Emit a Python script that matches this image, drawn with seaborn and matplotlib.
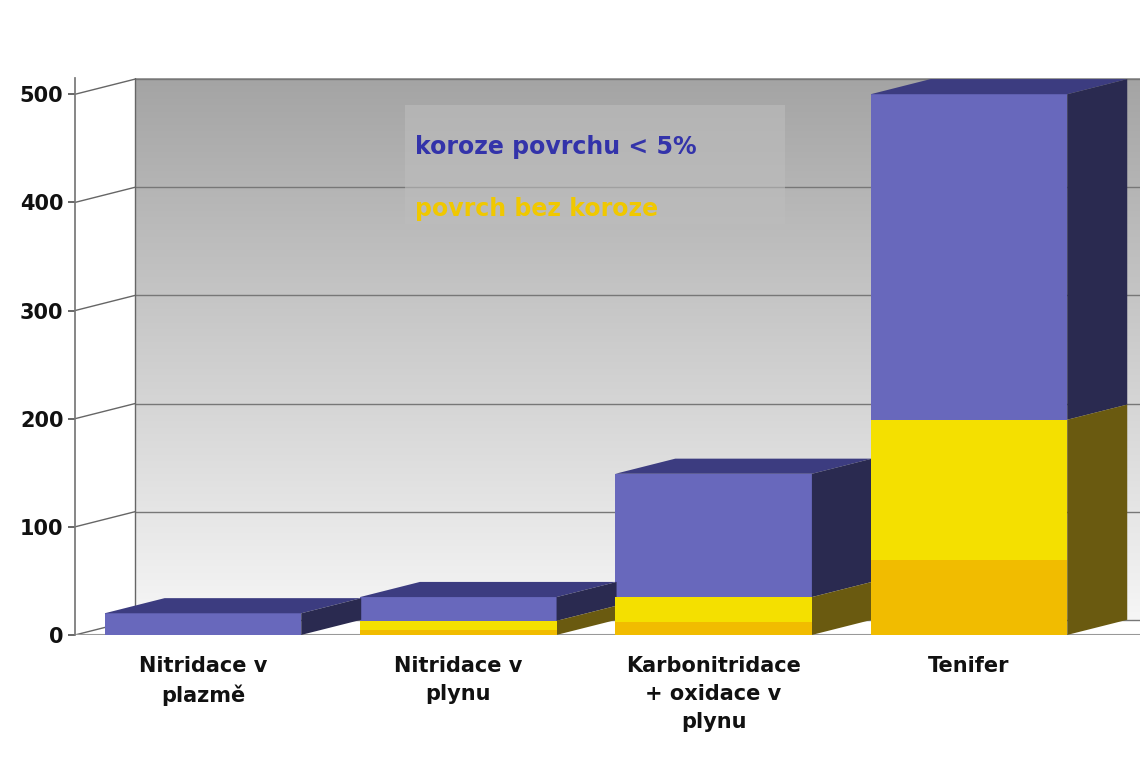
import matplotlib
matplotlib.use("Agg")
import matplotlib.pyplot as plt
import seaborn as sns
import numpy as np
import pandas as pd
from matplotlib.patches import Polygon, Rectangle

categories = ["Nitridace v\nplazmě", "Nitridace v\nplynu", "Karbonitridace\n+ oxidace v\nplynu", "Tenifer"]
total = [20, 35, 149, 500]
yellow = [0, 13, 35, 199]
yticks = [0, 100, 200, 300, 400, 500]
legend_labels = ["koroze povrchu < 5%", "povrch bez koroze"]

sns.set_theme(style="white")
plt.rcParams['font.family'] = ['DejaVu Sans']

fig = plt.figure(figsize=(11.4, 7.8), dpi=100)
ax = fig.add_axes([0.066, 0.186, 0.934, 0.714])
x0, x1 = -0.5, 3.67
y0, y1 = 0, 515
dx, dy = 0.235, 14

df = pd.DataFrame({"cat": categories, "total": total, "yellow": yellow})
w = 0.77
sns.barplot(data=df, x="cat", y="total", color="#6868bc", saturation=1, width=w, ax=ax, zorder=3, linewidth=0)
sns.barplot(data=df, x="cat", y="yellow", color="#f4e000", saturation=1, width=w, ax=ax, zorder=4, linewidth=0)
ax.set_xlim(x0, x1); ax.set_ylim(y0, y1)

grad = np.linspace(1, 0, 256).reshape(-1, 1)
ax.imshow(grad, extent=[x0 + dx, x1, dy, y1], aspect='auto',
          cmap=matplotlib.colors.LinearSegmentedColormap.from_list('g', ['#f6f6f6', '#a4a4a4']), zorder=0)
ax.set_xlim(x0, x1); ax.set_ylim(y0, y1)
for v in yticks:
    ax.plot([x0, x0 + dx], [v, v + dy], color='#666666', lw=1, zorder=1)
    ax.plot([x0 + dx, x1], [v + dy, v + dy], color='#777777', lw=1, zorder=1)
ax.plot([x0 + dx, x0 + dx], [dy, y1], color='#666666', lw=1, zorder=1)
ax.plot([x0, x1], [0, 0], color='#999999', lw=1.5, zorder=1)

for i, (t, yv) in enumerate(zip(total, yellow)):
    l, r = i - w / 2, i + w / 2
    ax.add_patch(Polygon([(l, t), (r, t), (r + dx, t + dy), (l + dx, t + dy)], closed=True, color='#3c3c80', zorder=3, lw=0))
    ax.add_patch(Polygon([(r, yv), (r, t), (r + dx, t + dy), (r + dx, yv + dy)], closed=True, color='#2a2a50', zorder=3, lw=0))
    if yv > 0:
        ax.add_patch(Polygon([(r, 0), (r, yv), (r + dx, yv + dy), (r + dx, dy)], closed=True, color='#6a5a10', zorder=3, lw=0))
        ax.add_patch(Rectangle((l, 0), w, yv * 0.35, color='#f0a000', alpha=0.55, zorder=5, lw=0))

ax.add_patch(Rectangle((0.79, 380), 1.49, 110, color='#bdbdbd', alpha=0.6, zorder=2, lw=0))
ax.text(0.83, 445, legend_labels[0], color='#3333aa', fontsize=17, fontweight='bold', zorder=6)
ax.text(0.83, 387, legend_labels[1], color='#f0c800', fontsize=17, fontweight='bold', zorder=6)

ax.set_xlabel(""); ax.set_ylabel("")
ax.set_yticks(yticks)
ax.set_yticklabels([str(v) for v in yticks], fontsize=15, fontweight='bold', color='#111111')
ax.set_xticks(range(4))
ax.set_xticklabels(categories, fontsize=15, fontweight='bold', va='top', linespacing=1.5, color='#111111')
ax.tick_params(axis='x', pad=15, length=0)
ax.tick_params(axis='y', length=5, left=True, color='#555555')
for s in ax.spines.values():
    s.set_visible(False)
ax.spines['left'].set_visible(True); ax.spines['left'].set_color('#777777')
fig.savefig("out.png", dpi=100)
